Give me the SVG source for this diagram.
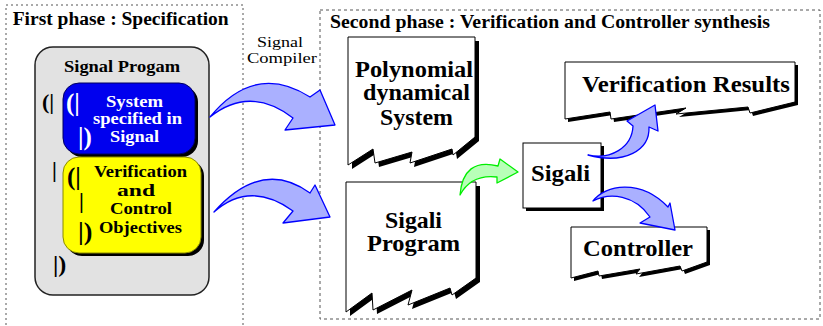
<svg xmlns="http://www.w3.org/2000/svg" width="823" height="326" viewBox="0 0 823 326" font-family="Liberation Serif, Times New Roman, serif">
<style>
.t{font-weight:bold;fill:#000}
.r{fill:#000}
.w{fill:#fff}
.phase{fill:none;stroke:#555;stroke-width:1;stroke-dasharray:2,3}
.doc{fill:#fff;stroke:#000;stroke-width:1}
.sh{fill:#000}
.barr{fill:#aab0ff;stroke:#0000ff;stroke-width:1.3;stroke-linejoin:round}
.garr{fill:#b8ffb8;stroke:#00ee00;stroke-width:1.3;stroke-linejoin:round}
</style>
<rect width="823" height="326" fill="#fff"/>
<g id="phase1">
<path class="phase" d="M6,330 V5 H243 V330"/>
<text class="t" x="12.7" y="25" font-size="18" font-family="Liberation Serif, serif" textLength="216" lengthAdjust="spacingAndGlyphs">First phase : Specification</text>
</g>
<g id="phase2">
<rect class="phase" x="320" y="10" width="500" height="309" style="stroke-dasharray:3,3"/>
<text class="t" x="330" y="28" font-size="18" font-family="Liberation Serif, serif" textLength="440" lengthAdjust="spacingAndGlyphs">Second phase : Verification and Controller synthesis</text>
</g>
<g id="signal-program" font-family="Liberation Serif, serif">
<rect x="35" y="47" width="174" height="248" rx="18" fill="#e2e2e2" stroke="#222" stroke-width="1.5"/>
<text class="t" x="64" y="72" font-size="17" textLength="116" lengthAdjust="spacingAndGlyphs">Signal Progam</text>
<text class="t" x="42" y="109" font-size="22">(|</text>
<text class="t" x="52" y="177" font-size="22">|</text>
<text class="t" x="53" y="272" font-size="24">|)</text>
</g>
<g id="system-signal" font-family="Liberation Serif, serif">
<rect x="66" y="86" width="132" height="71" rx="16" class="sh"/>
<rect x="63" y="83" width="132" height="71" rx="16" fill="#0000ee" stroke="#000060" stroke-width="1"/>
<text class="t w" x="66" y="111" font-size="25">(|</text>
<text class="t w" x="78" y="145" font-size="25">|)</text>
<text class="t w" x="106" y="107" font-size="16" textLength="57" lengthAdjust="spacingAndGlyphs">System</text>
<text class="t w" x="93" y="124" font-size="16" textLength="89" lengthAdjust="spacingAndGlyphs">specified in</text>
<text class="t w" x="110" y="142" font-size="16" textLength="49" lengthAdjust="spacingAndGlyphs">Signal</text>
</g>
<g id="objectives" font-family="Liberation Serif, serif">
<rect x="66" y="160" width="138" height="96" rx="16" class="sh"/>
<rect x="63" y="157" width="138" height="96" rx="16" fill="#ffff00" stroke="#8a8a00" stroke-width="1"/>
<text class="t" x="67" y="185" font-size="25">(|</text>
<text class="t" x="79" y="208" font-size="22">|</text>
<text class="t" x="78" y="240" font-size="26">|)</text>
<text class="t" x="94" y="177" font-size="16" textLength="93" lengthAdjust="spacingAndGlyphs">Verification</text>
<text class="t" x="117" y="196" font-size="16" textLength="38" lengthAdjust="spacingAndGlyphs">and</text>
<text class="t" x="110" y="214" font-size="16" textLength="62" lengthAdjust="spacingAndGlyphs">Control</text>
<text class="t" x="99" y="233" font-size="16" textLength="83" lengthAdjust="spacingAndGlyphs">Objectives</text>
</g>
<g id="compiler-label" font-family="Liberation Serif, serif">
<text class="r" x="257" y="47" font-size="15" textLength="46" lengthAdjust="spacingAndGlyphs">Signal</text>
<text class="r" x="247" y="63" font-size="15" textLength="70" lengthAdjust="spacingAndGlyphs">Compiler</text>
</g>
<g id="polynomial" font-family="Liberation Serif, serif">
<path class="sh" transform="translate(4,4)" d="M348,37 H475 V137 L453,155 L452,149 L410,163 L412,152 L375,163 L373,149 L348,165 Z"/>
<path class="doc" d="M348,37 H475 V137 L453,155 L452,149 L410,163 L412,152 L375,163 L373,149 L348,165 Z"/>
<text class="t" x="355" y="77" font-size="23" textLength="118" lengthAdjust="spacingAndGlyphs">Polynomial</text>
<text class="t" x="363" y="100" font-size="23" textLength="107" lengthAdjust="spacingAndGlyphs">dynamical</text>
<text class="t" x="380" y="125" font-size="23" textLength="73" lengthAdjust="spacingAndGlyphs">System</text>
</g>
<g id="sigali-program" font-family="Liberation Serif, serif">
<path class="sh" transform="translate(4,4)" d="M346,182 H476 V278 L452,295 L450,288 L408,305 L412,290 L373,310 L372,293 L346,312 Z"/>
<path class="doc" d="M346,182 H476 V278 L452,295 L450,288 L408,305 L412,290 L373,310 L372,293 L346,312 Z"/>
<text class="t" x="385" y="228" font-size="23" textLength="57" lengthAdjust="spacingAndGlyphs">Sigali</text>
<text class="t" x="367" y="251" font-size="23" textLength="93" lengthAdjust="spacingAndGlyphs">Program</text>
</g>
<g id="sigali" font-family="Liberation Serif, serif">
<rect x="526" y="146" width="78" height="65" class="sh"/>
<rect x="523" y="143" width="78" height="65" class="doc"/>
<text class="t" x="531" y="181" font-size="23" textLength="59" lengthAdjust="spacingAndGlyphs">Sigali</text>
</g>
<g id="verification-results" font-family="Liberation Serif, serif">
<path class="sh" transform="translate(3,3)" d="M565,62 H795 V102 L750,113 L748,107 L676,114 L686,108 L611,119 L610,112 L565,119 Z"/>
<path class="doc" d="M565,62 H795 V102 L750,113 L748,107 L676,114 L686,108 L611,119 L610,112 L565,119 Z"/>
<text class="t" x="582" y="92" font-size="23" textLength="208" lengthAdjust="spacingAndGlyphs">Verification Results</text>
</g>
<g id="controller" font-family="Liberation Serif, serif">
<path class="sh" transform="translate(3,3)" d="M571,227 H707 V262 L682,271 L680,266 L636,274 L640,269 L599,276 L598,271 L571,278 Z"/>
<path class="doc" d="M571,227 H707 V262 L682,271 L680,266 L636,274 L640,269 L599,276 L598,271 L571,278 Z"/>
<text class="t" x="583" y="256" font-size="23" textLength="110" lengthAdjust="spacingAndGlyphs">Controller</text>
</g>
<g id="connectors">
<path class="barr" d="M210,117 Q255,62 310,97 L320,90 L335,125 L285,130 L293,118 Q250,85 210,117 Z"/>
<path class="barr" d="M214,212 Q262,158 310,193 L315,185 L330,217 L283,223 L293,211 Q250,180 214,212 Z"/>
<path class="garr" d="M460,195 C462,170 475,160 498,166 L500,159 L518,172 L497,183 L497,177 C480,175 468,180 460,195 Z"/>
<path class="barr" d="M588,155 C610,160 632,148 633,126 L627,121 L655,105 L658,131 L649,127 C650,150 625,165 588,155 Z"/>
<path class="barr" d="M593,201 C605,185 640,178 668,207 L670,203 L675,230 L640,223 L650,217 C635,195 610,192 593,201 Z"/>
</g>
</svg>
